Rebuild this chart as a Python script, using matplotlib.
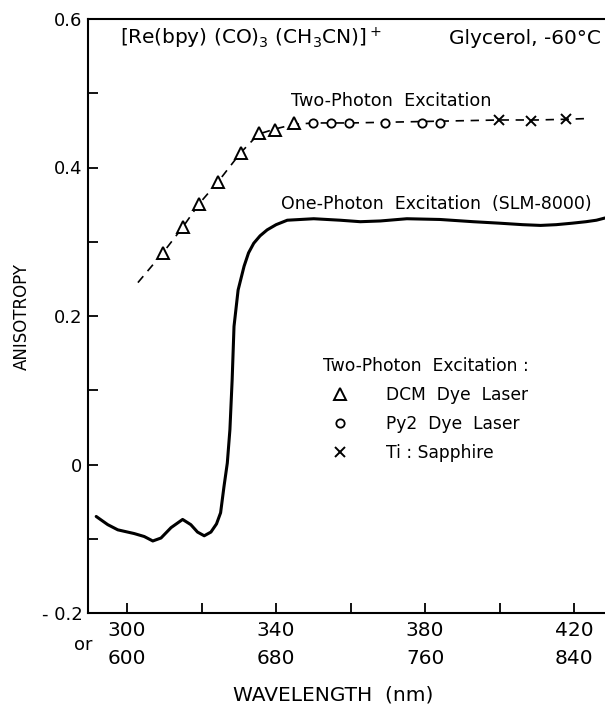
import matplotlib
matplotlib.use("Agg")
import matplotlib.pyplot as plt
from matplotlib.lines import Line2D

# ---- data ----
# one-photon excitation anisotropy spectrum (SLM-8000)
one_nm = [291.7, 294.8, 297.5, 301.9, 304.6, 306.9, 309.1, 311.8, 314.9, 317.1,
          318.9, 320.7, 322.5, 324.0, 325.1, 326.0, 326.9, 327.6, 328.2, 328.7,
          329.8, 331.4, 332.6, 334.0, 335.7, 337.6, 340.0, 343.0, 350.1, 357.2,
          362.6, 368.0, 375.1, 384.0, 392.9, 400.0, 406.2, 411.0, 415.2, 419.5,
          423.2, 426.0, 428.3]
one_r = [-0.070, -0.081, -0.088, -0.093, -0.097, -0.103, -0.099, -0.085, -0.074, -0.081,
         -0.091, -0.096, -0.091, -0.080, -0.065, -0.030, 0.002, 0.047, 0.114, 0.186,
         0.235, 0.267, 0.285, 0.298, 0.308, 0.316, 0.323, 0.329, 0.331, 0.329,
         0.327, 0.328, 0.331, 0.330, 0.327, 0.325, 0.323, 0.322, 0.323, 0.325,
         0.327, 0.329, 0.332]

# two-photon excitation points
tri_nm = [309.6, 315.0, 319.3, 324.3, 330.5, 335.3, 339.8, 344.7]
tri_r = [0.285, 0.320, 0.351, 0.380, 0.420, 0.447, 0.450, 0.460]
circ_nm = [349.9, 354.7, 359.7, 369.3, 379.1, 384.0]
circ_r = [0.460, 0.460, 0.460, 0.460, 0.460, 0.460]
xs_nm = [399.8, 408.5, 417.8]
xs_r = [0.464, 0.463, 0.465]

# dashed guide curve through two-photon data
fit_nm = [302.9, 309.6, 315.0, 319.3, 324.3, 330.5, 335.3, 339.8, 344.7, 350.0,
          360.0, 370.0, 380.0, 390.0, 400.0, 410.0, 418.0, 424.0]
fit_r = [0.245, 0.285, 0.320, 0.351, 0.380, 0.420, 0.445, 0.452, 0.458, 0.460,
         0.460, 0.461, 0.462, 0.463, 0.464, 0.464, 0.465, 0.466]

major_x = [300, 340, 380, 420]
major_x_labels = ["300\n600", "340\n680", "380\n760", "420\n840"]
minor_x = [320, 360, 400]
major_y = [0.6, 0.4, 0.2, 0.0, -0.2]
major_y_labels = ["0.6", "0.4", "0.2", "0", "- 0.2"]
minor_y = [0.5, 0.3, 0.1, -0.1]

plt.rcParams['font.family'] = ['DejaVu Sans']
plt.rcParams['mathtext.fontset'] = 'dejavusans'

W, H = 605, 705
fig = plt.figure(figsize=(W / 100, H / 100), dpi=100)
L, R, T, B = 88, 605, 19, 613
ax = fig.add_axes([L / W, (H - B) / H, (R - L) / W, (B - T) / H])
ax.set_xlim(289.5, 428.3)
ax.set_ylim(-0.2, 0.6)

for s in ["left", "bottom", "top"]:
    ax.spines[s].set_linewidth(1.5)
ax.spines["right"].set_visible(False)

ax.set_xticks(major_x)
ax.set_xticklabels(major_x_labels)
ax.set_xticks(minor_x, minor=True)
ax.set_yticks(major_y)
ax.set_yticklabels(major_y_labels)
ax.set_yticks(minor_y, minor=True)
ax.tick_params(axis="both", which="both", direction="in", length=7, width=1.3)
ax.tick_params(axis="x", which="major", pad=6, labelsize=14.5)
ax.tick_params(axis="y", which="major", pad=4, labelsize=13)
for t in ax.get_xticklabels():
    t.set_linespacing(1.6)

# one-photon curve
ax.plot(one_nm, one_r, color="black", lw=2.2, solid_capstyle="round")

# two-photon dashed curve and markers
ax.plot(fit_nm, fit_r, color="black", lw=1.2, dashes=(5, 4))
ax.plot(tri_nm, tri_r, linestyle="none", marker="^", ms=9, mfc="white",
        mec="black", mew=1.4)
ax.plot(circ_nm, circ_r, linestyle="none", marker="o", ms=6, mfc="white",
        mec="black", mew=1.3)
ax.plot(xs_nm, xs_r, linestyle="none", marker="x", ms=6.5, mec="black", mew=1.4)

# texts
ax.text(298.0, 0.574, r"[Re(bpy) (CO)$_3$ (CH$_3$CN)]$^+$", fontsize=14.5,
        ha="left", va="center")
ax.text(427.3, 0.574, "Glycerol, -60°C", fontsize=14.5, ha="right", va="center")
ax.text(343.9, 0.489, "Two-Photon  Excitation", fontsize=12.7, ha="left", va="center")
ax.text(341.2, 0.351, "One-Photon  Excitation  (SLM-8000)", fontsize=12.5,
        ha="left", va="center")

handles = [
    Line2D([], [], linestyle="none", marker="^", ms=9, mfc="white", mec="black", mew=1.4),
    Line2D([], [], linestyle="none", marker="o", ms=6, mfc="white", mec="black", mew=1.3),
    Line2D([], [], linestyle="none", marker="x", ms=6.5, mec="black", mew=1.4),
]
leg = ax.legend(handles, ["DCM  Dye  Laser", "Py2  Dye  Laser", "Ti : Sapphire"],
                title="Two-Photon  Excitation :", loc="upper left",
                bbox_to_anchor=((323 - L) / (R - L), (B - 357) / (B - T)),
                frameon=False, fontsize=12.3, title_fontsize=12.3, borderpad=0,
                borderaxespad=0, handlelength=1.95, handletextpad=1.75,
                labelspacing=0.64, alignment="left")

ax.text((83 - L) / (R - L), (B - 645) / (B - T), "or", transform=ax.transAxes,
        fontsize=13, ha="center", va="center", clip_on=False)
fig.text(333 / W, 1 - 695 / H, "WAVELENGTH  (nm)", fontsize=14.5, ha="center",
         va="center")
fig.text(22 / W, 1 - 317 / H, "ANISOTROPY", fontsize=12, ha="center",
         va="center", rotation=90)

fig.savefig("out.png", dpi=100)
